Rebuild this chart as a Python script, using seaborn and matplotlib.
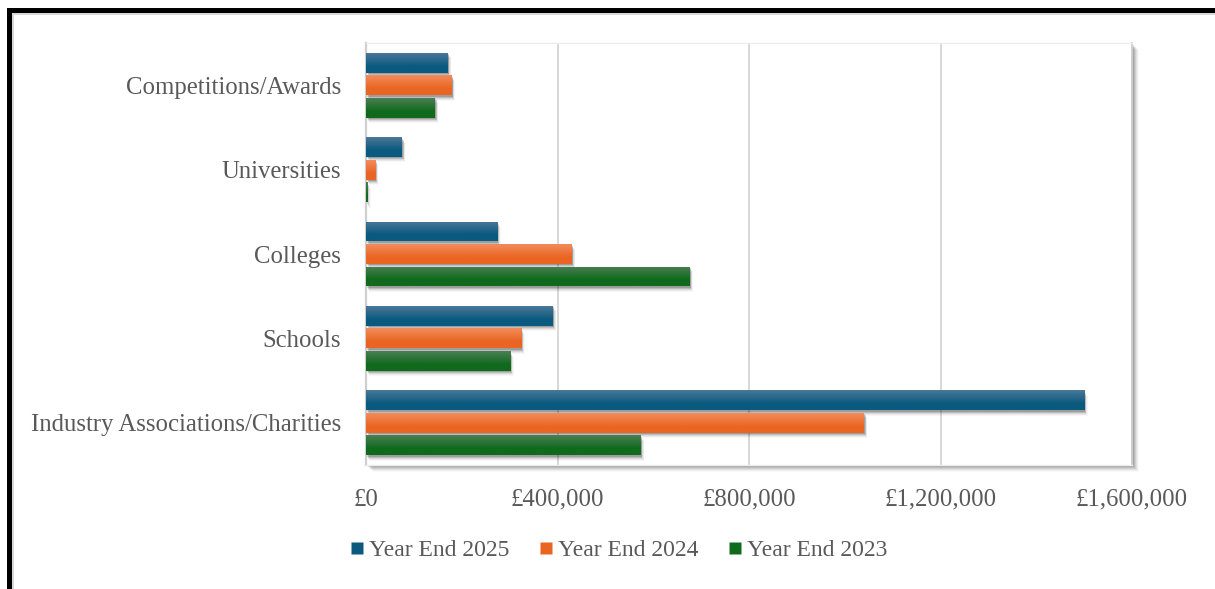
import numpy as np
import pandas as pd
import matplotlib
matplotlib.use("Agg")
import matplotlib.pyplot as plt
import matplotlib.transforms as mtransforms
from matplotlib.patches import Rectangle
from matplotlib.lines import Line2D
import seaborn as sns

# Funding by recipient type
categories = ["Competitions/Awards", "Universities", "Colleges", "Schools",
              "Industry Associations/Charities"]
ye2025 = [171000, 75000, 274000, 390000, 1500000]
ye2024 = [179000, 19000, 430000, 324000, 1040000]
ye2023 = [144000, 2500, 676000, 301000, 574000]
series = ["Year End 2025", "Year End 2024", "Year End 2023"]
xticks = [0, 400000, 800000, 1200000, 1600000]
xtick_labels = ["£0", "£400,000", "£800,000", "£1,200,000", "£1,600,000"]

# top (light) / bottom (dark) shades for each series
shades = {
    "Year End 2025": ("#4a7898", "#0a5a7f"),
    "Year End 2024": ("#f28c5c", "#ea6522"),
    "Year End 2023": ("#4b7f55", "#106a1c"),
}

df = pd.DataFrame({
    "category": categories * 3,
    "value": ye2025 + ye2024 + ye2023,
    "series": [s for s in series for _ in categories],
})

sns.set_theme(style="white")
plt.rcParams["font.family"] = ["Liberation Serif", "DejaVu Serif"]
TXT = "#595959"
FS = 17.8

W, H = 1215, 589
fig = plt.figure(figsize=(W / 100, H / 100), dpi=100)
fig.patch.set_facecolor("white")

ax_l, ax_r, ax_t, ax_b = 366, 1132, 43, 465
ax = fig.add_axes([ax_l / W, 1 - ax_b / H, (ax_r - ax_l) / W, (ax_b - ax_t) / H])
ax.set_zorder(2)

# soft shadow behind the plot area
for i, a in enumerate([0.10, 0.09, 0.08, 0.06, 0.04, 0.025]):
    off = 2 + i
    fig.patches.append(Rectangle(((ax_l + off) / W, 1 - (ax_b + off) / H),
                                 (ax_r - ax_l) / W, (ax_b - ax_t) / H,
                                 transform=fig.transFigure, facecolor="#000000",
                                 alpha=a, edgecolor="none", zorder=0))

palette = {s: shades[s][1] for s in series}
sns.barplot(data=df, x="value", y="category", hue="series", hue_order=series,
            order=categories, palette=palette, orient="h", width=0.8,
            legend=False, ax=ax, zorder=3, linewidth=0)

ax.set_xlim(0, 1600000)
ylim = ax.get_ylim()
ax.set_autoscale_on(False)

t = np.linspace(0, 1, 64)[:, None]
mix = np.clip(t * 1.5, 0, 1)
for cont, s in zip(ax.containers, series):
    light, dark = shades[s]
    c0 = np.array(matplotlib.colors.to_rgb(light))
    c1 = np.array(matplotlib.colors.to_rgb(dark))
    img = (c0 * (1 - mix) + c1 * mix)[:, None, :]
    for bar in cont:
        x0 = bar.get_x()
        w = bar.get_width()
        y0 = bar.get_y()
        h = bar.get_height()
        nh = h * 0.88
        ny = y0 + (h - nh) / 2
        bar.set_y(ny)
        bar.set_height(nh)
        bar.set_edgecolor("none")
        if w <= 0:
            continue
        # blurred drop shadow, mostly below the bar
        for k, al in enumerate([0.16, 0.12, 0.08, 0.05, 0.03]):
            sh_tf = mtransforms.offset_copy(ax.transData, fig=fig, x=1 + 0.6 * k,
                                            y=-(1.5 + k), units="dots")
            ax.add_patch(Rectangle((x0, ny), w, nh, transform=sh_tf, facecolor="black",
                                   alpha=al, edgecolor="none", zorder=2.5))
        im = ax.imshow(img, extent=(x0, x0 + w, ny + nh, ny), origin="upper",
                       aspect="auto", interpolation="bilinear", zorder=3.5)
        im.set_clip_path(bar)

ax.set_ylim(ylim)
ax.set_xlim(0, 1600000)
ax.set_facecolor("white")
ax.set_xticks(xticks)
ax.set_xticklabels(xtick_labels)
ax.xaxis.grid(True, color="#d4d4d4", linewidth=1.3, zorder=0)
ax.set_axisbelow(True)
ax.yaxis.grid(False)
ax.set_xlabel("")
ax.set_ylabel("")
ax.tick_params(axis="x", length=0, pad=17, labelsize=FS, labelcolor=TXT)
ax.tick_params(axis="y", length=0, pad=18, labelsize=FS, labelcolor=TXT)
for side, sp in ax.spines.items():
    sp.set_visible(True)
    sp.set_color("#ececec")
    sp.set_linewidth(1.0)
ax.spines["left"].set_color("#cfcfcf")
ax.spines["left"].set_linewidth(1.6)
ax.spines["right"].set_color("#d0d0d0")
ax.spines["right"].set_linewidth(1.3)

# legend
handles = [Line2D([0], [0], marker="s", linestyle="none", markersize=9,
                  markerfacecolor=shades[s][1], markeredgecolor="none") for s in series]
fig.legend(handles, series, loc="center", bbox_to_anchor=(619 / W, 1 - 550 / H),
           ncol=3, frameon=False, fontsize=17, labelcolor=TXT,
           handlelength=0.5, handletextpad=0.25, columnspacing=1.3)

# frame lines along the top and left edges
fig.patches.append(Rectangle((7 / W, 0), 5 / W, 1 - 8 / H, transform=fig.transFigure,
                             facecolor="black", edgecolor="none", zorder=5))
fig.patches.append(Rectangle((7 / W, 1 - 13 / H), 1 - 7 / W, 5 / H, transform=fig.transFigure,
                             facecolor="black", edgecolor="none", zorder=5))
fig.patches.append(Rectangle((12 / W, 1 - 15 / H), 1 - 12 / W, 2 / H, transform=fig.transFigure,
                             facecolor="#d8d8d8", edgecolor="none", zorder=4))
fig.patches.append(Rectangle((12 / W, 0), 2 / W, 1 - 13 / H, transform=fig.transFigure,
                             facecolor="#d8d8d8", edgecolor="none", zorder=4))

fig.savefig("out.png", dpi=100)
